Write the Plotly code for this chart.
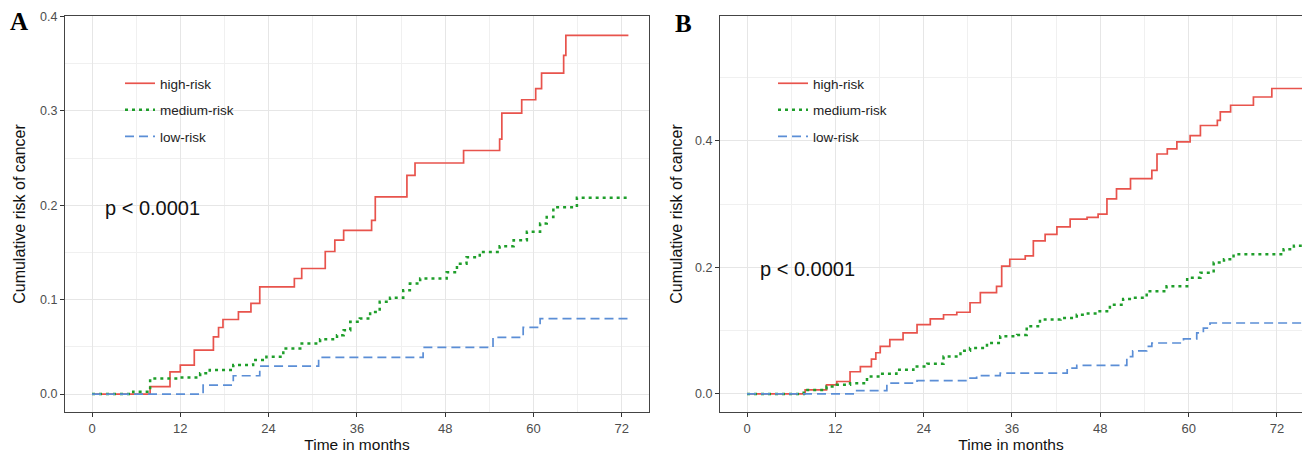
import plotly.graph_objects as go

# ---------------- data ----------------
groups = ["high-risk", "medium-risk", "low-risk"]

# Panel A
a_high_t = [0, 7.9, 10.6, 12.0, 13.9, 16.5, 17.2, 17.8, 19.9, 21.6, 22.8, 27.5, 28.5, 31.7, 33.0, 34.2,
            38.0, 38.5, 42.8, 43.9, 50.5, 55.4, 55.7, 58.4, 60.3, 61.1, 64.1, 64.4, 72.9]
a_high_v = [0, 0.0078, 0.0236, 0.0307, 0.0466, 0.0606, 0.0705, 0.079, 0.087, 0.096, 0.1135, 0.1224, 0.133,
            0.151, 0.163, 0.1735, 0.184, 0.2088, 0.2317, 0.2448, 0.258, 0.270, 0.2977, 0.3118, 0.3235, 0.340,
            0.3587, 0.380, 0.380]

a_med_t = [0, 5.6, 7.9, 12.0, 14.7, 16.0, 19.2, 21.9, 23.7, 26.0, 28.3, 31.0, 33.3, 34.2, 35.1, 36.4, 37.8,
           39.1, 40.5, 42.3, 43.2, 44.6, 48.2, 49.6, 50.9, 52.7, 55.4, 57.3, 59.1, 60.9, 61.8, 62.7, 65.9, 72.9]
a_med_v = [0, 0.0025, 0.0166, 0.0175, 0.022, 0.0254, 0.0307, 0.036, 0.0395, 0.0483, 0.0536, 0.058, 0.0624,
           0.0677, 0.0765, 0.080, 0.087, 0.0977, 0.102, 0.110, 0.117, 0.1224, 0.129, 0.138, 0.145, 0.1506,
           0.1566, 0.163, 0.172, 0.1806, 0.1876, 0.198, 0.208, 0.208]

a_low_t = [0, 15.1, 19.2, 22.8, 30.8, 45.0, 54.5, 58.6, 60.9, 72.9]
a_low_v = [0, 0.0095, 0.0194, 0.0296, 0.0388, 0.0494, 0.060, 0.0706, 0.080, 0.080]

# Panel B
b_high_t = [0, 7.9, 10.8, 12.2, 14.0, 15.4, 16.9, 17.5, 18.1, 19.4, 21.2, 23.1, 24.9, 26.7, 28.5, 30.3, 31.7,
            33.9, 34.6, 35.7, 37.8, 38.9, 40.5, 42.1, 43.9, 46.2, 47.7, 48.9, 50.2, 52.1, 55.0, 55.7, 57.1,
            58.4, 60.2, 61.6, 63.9, 64.3, 65.7, 68.8, 71.3, 75.4]
b_high_v = [0, 0.0063, 0.0143, 0.0196, 0.035, 0.043, 0.055, 0.065, 0.075, 0.0857, 0.0963, 0.1095, 0.1185,
            0.125, 0.129, 0.144, 0.160, 0.170, 0.202, 0.2127, 0.218, 0.2418, 0.252, 0.264, 0.276, 0.279,
            0.284, 0.308, 0.324, 0.340, 0.353, 0.379, 0.387, 0.398, 0.408, 0.424, 0.432, 0.4455, 0.456,
            0.469, 0.4825, 0.4825]

b_med_t = [0, 7.7, 10.8, 12.2, 14.0, 16.3, 18.1, 20.3, 22.6, 24.5, 26.7, 29.0, 30.3, 32.6, 34.4, 36.7, 38.0,
           39.8, 42.6, 44.8, 46.1, 47.9, 49.3, 51.1, 52.4, 54.3, 57.0, 59.8, 61.6, 63.4, 64.8, 66.1, 72.0,
           72.9, 74.3, 75.2]
b_med_v = [0, 0.006, 0.0116, 0.0143, 0.017, 0.0275, 0.0317, 0.038, 0.0434, 0.0476, 0.059, 0.068, 0.0725,
           0.0805, 0.091, 0.093, 0.107, 0.1175, 0.120, 0.125, 0.127, 0.1306, 0.141, 0.150, 0.152, 0.162,
           0.170, 0.1836, 0.1915, 0.2074, 0.2127, 0.2206, 0.2206, 0.2286, 0.234, 0.2418]

b_low_t = [0, 14.9, 19.0, 23.1, 30.3, 31.2, 34.4, 43.5, 44.8, 51.6, 52.4, 54.3, 55.0, 59.3, 61.1, 62.0, 62.9, 75.4]
b_low_v = [0, 0.0053, 0.017, 0.021, 0.025, 0.029, 0.0328, 0.0407, 0.045, 0.059, 0.068, 0.075, 0.0804,
           0.0868, 0.0963, 0.104, 0.112, 0.112]

x_ticks = [0, 12, 24, 36, 48, 60, 72]
a_yticks = [0.0, 0.1, 0.2, 0.3, 0.4]
a_yticklabels = ["0.0", "0.1", "0.2", "0.3", "0.4"]
b_yticks = [0.0, 0.2, 0.4]
b_yticklabels = ["0.0", "0.2", "0.4"]
pval_text = "p < 0.0001"
x_title = "Time in months"
y_title = "Cumulative risk of cancer"

# ---------------- layout helpers ----------------
PAGE_W, PAGE_H = 1310, 457
OFF = 8                      # default body margin of the html page
W, H = PAGE_W - OFF, PAGE_H - OFF


def fx(px):                  # page pixel -> paper x fraction
    return (px - OFF) / W


def fy(py):                  # page pixel (from top) -> paper y fraction
    return 1 - (py - OFF) / H


RED, GREEN, BLUE = "#E8534C", "#1E9E2A", "#5B8ED6"
styles = [
    dict(color=RED, width=1.7, dash="solid"),
    dict(color=GREEN, width=2.5, dash="3px,4px"),
    dict(color=BLUE, width=1.7, dash="9px,5px"),
]
FONT = "Liberation Sans, Arial, sans-serif"

fig = go.Figure()

panelA = [(a_high_t, a_high_v), (a_med_t, a_med_v), (a_low_t, a_low_v)]
panelB = [(b_high_t, b_high_v), (b_med_t, b_med_v), (b_low_t, b_low_v)]

for i, (t, v) in enumerate(panelA):
    fig.add_trace(go.Scatter(x=t, y=v, mode="lines", line=styles[i], line_shape="hv",
                             name=groups[i], legend="legend", legendgroup="a" + str(i),
                             xaxis="x", yaxis="y"))
for i, (t, v) in enumerate(panelB):
    fig.add_trace(go.Scatter(x=t, y=v, mode="lines", line=styles[i], line_shape="hv",
                             name=groups[i], legend="legend2", legendgroup="b" + str(i),
                             xaxis="x2", yaxis="y2"))

ydom = [fy(412), fy(16)]
axis_common = dict(
    showline=True, mirror=True, linecolor="#444", linewidth=1.3,
    ticks="outside", ticklen=4, tickcolor="#333", tickwidth=1.2,
    showgrid=True, gridcolor="#e6e6e6", gridwidth=1, zeroline=False, automargin=False,
)

fig.update_layout(
    width=W, height=H, margin=dict(l=0, r=0, t=0, b=0),
    paper_bgcolor="white", plot_bgcolor="white",
    font=dict(family=FONT, color="#222"),
    xaxis=dict(domain=[fx(65), fx(649)], range=[-3.67, 75.7], tickvals=x_ticks,
               tickfont=dict(size=13, color="#4d4d4d"),
               minor=dict(tick0=0, dtick=6, showgrid=True, gridcolor="#f0f0f0"),
               title=dict(text=x_title, font=dict(size=15.5, color="#111"), standoff=3),
               anchor="y", **axis_common),
    yaxis=dict(domain=ydom, range=[-0.019, 0.4005], tickvals=a_yticks, ticktext=a_yticklabels,
               tickfont=dict(size=12.5, color="#4d4d4d"),
               minor=dict(tick0=0, dtick=0.05, showgrid=True, gridcolor="#f0f0f0"),
               title=dict(text=y_title, font=dict(size=16, color="#111"), standoff=10),
               anchor="x", **axis_common),
    xaxis2=dict(domain=[fx(720), fx(1302)], range=[-3.67, 75.4], tickvals=x_ticks,
                tickfont=dict(size=13, color="#4d4d4d"),
                minor=dict(tick0=0, dtick=6, showgrid=True, gridcolor="#f0f0f0"),
                title=dict(text=x_title, font=dict(size=15.5, color="#111"), standoff=3),
                anchor="y2", **axis_common),
    yaxis2=dict(domain=ydom, range=[-0.0286, 0.597], tickvals=b_yticks, ticktext=b_yticklabels,
                tickfont=dict(size=12.5, color="#4d4d4d"),
                minor=dict(tick0=0, dtick=0.1, showgrid=True, gridcolor="#f0f0f0"),
                title=dict(text=y_title, font=dict(size=16, color="#111"), standoff=8),
                anchor="x2", **axis_common),
    legend=dict(x=fx(120), y=fy(68), xanchor="left", yanchor="top", bgcolor="rgba(0,0,0,0)",
                font=dict(size=13.5, color="#222"), tracegroupgap=6, itemwidth=30),
    legend2=dict(x=fx(773), y=fy(68), xanchor="left", yanchor="top", bgcolor="rgba(0,0,0,0)",
                 font=dict(size=13.5, color="#222"), tracegroupgap=6, itemwidth=30),
    showlegend=True,
)

fig.add_annotation(text=pval_text, x=1.5, y=0.197, xref="x", yref="y", xanchor="left", yanchor="middle",
                   showarrow=False, font=dict(size=20, color="#111"))
fig.add_annotation(text=pval_text, x=1.5, y=0.197, xref="x2", yref="y2", xanchor="left", yanchor="middle",
                   showarrow=False, font=dict(size=20, color="#111"))
fig.add_annotation(text="<b>A</b>", x=fx(8), y=fy(6), xref="paper", yref="paper", xanchor="left",
                   yanchor="top", showarrow=False,
                   font=dict(size=25, family="Liberation Serif, Times New Roman, serif", color="#000"))
fig.add_annotation(text="<b>B</b>", x=fx(673), y=fy(8), xref="paper", yref="paper", xanchor="left",
                   yanchor="top", showarrow=False,
                   font=dict(size=25, family="Liberation Serif, Times New Roman, serif", color="#000"))

fig.write_html("out.html")
